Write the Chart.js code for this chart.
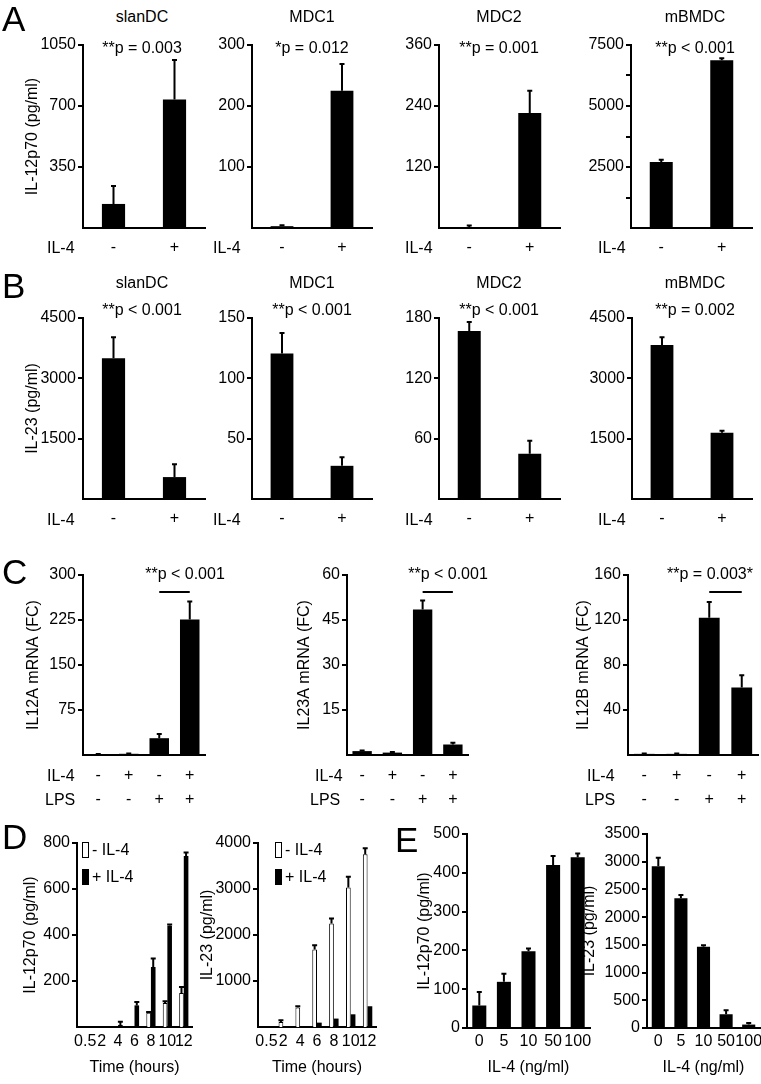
<!DOCTYPE html>
<html>
<head>
<meta charset="utf-8">
<script src="https://cdn.jsdelivr.net/npm/chart.js@4.4.1/dist/chart.umd.min.js"></script>
<style>
body { margin: 0; background: #fff; }
#fig { position: relative; width: 761px; height: 1084px; overflow: hidden; font-family: 'Liberation Sans', Arial, sans-serif; color: #000; }
#fig canvas { position: absolute; }
.t { position: absolute; white-space: nowrap; line-height: 1; font-size: 16px; transform: translate(-50%, -50%); }
.t.l { transform: translate(0, -50%); }
.t.let { font-size: 35px; }
.box { position: absolute; width: 7px; height: 16px; border: 1px solid #000; box-sizing: border-box; background: #fff; }
.box.on { background: #000; }
</style>
</head>
<body>
<div id="fig"></div>
<script>
// ---- data ----
var il4Labels = ['-', '+'];
var cellTypes = ['slanDC', 'MDC1', 'MDC2', 'mBMDC'];

// A: IL-12p70 (pg/ml), mean and SD
var aValues = [[138, 738], [3, 225], [2, 226], [2700, 6880]];
var aErrors = [[103, 226], [1.5, 44], [3, 44], [100, 80]];
var aPvals = ['**p = 0.003', '*p = 0.012', '**p = 0.001', '**p < 0.001'];
var aMax = [1050, 300, 360, 7500];
var aStep = [350, 100, 120, 1250];
var aLabelEvery = [0, 0, 0, 2500];

// B: IL-23 (pg/ml)
var bValues = [[3500, 545], [120.5, 27.5], [167, 45], [3830, 1645]];
var bErrors = [[520, 320], [17, 7], [9, 13], [190, 50]];
var bPvals = ['**p < 0.001', '**p < 0.001', '**p < 0.001', '**p = 0.002'];
var bMax = [4500, 150, 180, 4500];
var bStep = [1500, 50, 60, 1500];

// C: mRNA fold change, columns = IL-4 / LPS combos
var cLabels = [['-', '-'], ['+', '-'], ['-', '+'], ['+', '+']];
var cTitles = ['IL12A mRNA (FC)', 'IL23A mRNA (FC)', 'IL12B mRNA (FC)'];
var cValues = [[1, 2, 28, 226], [1.3, 0.8, 48.5, 3.5], [1, 1, 122, 60]];
var cErrors = [[0.5, 0.5, 7, 30], [0.2, 0.2, 3, 0.6], [0.3, 0.3, 14, 11]];
var cPvals = ['**p < 0.001', '**p < 0.001', '**p = 0.003*'];
var cMax = [300, 60, 160];
var cStep = [75, 15, 40];

// D: time course
var dHours = ['0.5', '2', '4', '6', '8', '10', '12'];
var d12Minus = [0, 0, 0, 0, 62, 104, 148];
var d12MinusErr = [0, 0, 0, 0, 3, 8, 26];
var d12Plus = [0, 0, 9, 94, 261, 440, 743];
var d12PlusErr = [0, 0, 14, 15, 37, 6, 16];
var d23Minus = [0, 109, 422, 1685, 2251, 3035, 3754];
var d23MinusErr = [0, 40, 28, 94, 109, 231, 131];
var d23Plus = [0, 0, 0, 95, 183, 276, 451];
var d23PlusErr = [0, 0, 0, 0, 0, 0, 0];

// E: IL-4 dose
var eDoses = ['0', '5', '10', '50', '100'];
var e12 = [58, 119, 198, 420, 440];
var e12Err = [35, 21, 7, 23, 10];
var e23 = [2920, 2340, 1465, 248, 62];
var e23Err = [150, 60, 30, 70, 28];

// ---- layout ----
var FONT = "'Liberation Sans', Arial, sans-serif";
Chart.defaults.font.family = FONT;
Chart.defaults.font.size = 16;
Chart.defaults.color = '#000';

var fig = document.getElementById('fig');

// error bars (upper only) drawn from the bar scale
var errorBars = {
    id: 'errorBars',
    afterDatasetsDraw: function(chart) {
        var ctx = chart.ctx;
        var y = chart.scales.y;
        chart.data.datasets.forEach(function(ds, di) {
            if (!ds.errors) return;
            var meta = chart.getDatasetMeta(di);
            meta.data.forEach(function(bar, i) {
                var err = ds.errors[i];
                if (!err) return;
                var top = y.getPixelForValue(ds.data[i] + err);
                ctx.save();
                ctx.strokeStyle = '#000';
                ctx.lineWidth = 2;
                ctx.beginPath();
                ctx.moveTo(bar.x, bar.y);
                ctx.lineTo(bar.x, top);
                ctx.moveTo(bar.x - 2.5, top);
                ctx.lineTo(bar.x + 2.5, top);
                ctx.stroke();
                ctx.restore();
            });
        });
    }
};

// significance line between two bars (panel C)
var bracket = {
    id: 'bracket',
    afterDatasetsDraw: function(chart, args, opts) {
        if (!opts || opts.from === undefined) return;
        var meta = chart.getDatasetMeta(0);
        var x1 = meta.data[opts.from].x, x2 = meta.data[opts.to].x;
        var yy = chart.chartArea.top + opts.offset;
        var ctx = chart.ctx;
        ctx.save();
        ctx.strokeStyle = '#000';
        ctx.lineWidth = 2;
        ctx.beginPath();
        ctx.moveTo(x1, yy);
        ctx.lineTo(x2, yy);
        ctx.stroke();
        ctx.restore();
    }
};

function txt(str, x, y, cls) {
    var d = document.createElement('div');
    d.className = 't' + (cls ? ' ' + cls : '');
    d.textContent = str;
    d.style.left = x + 'px';
    d.style.top = y + 'px';
    fig.appendChild(d);
    return d;
}

function barChart(p) {
    var padTop = 12, padRight = 8;
    var left = Math.round(p.titleX !== undefined ? p.titleX - 9.6 : p.ax - 50);
    var top = p.at - padTop;
    var yW = p.ax - left;
    var xH = p.xTitleY !== undefined ? Math.round(p.xTitleY + 9.6 - p.ab) : 50;
    var c = document.createElement('canvas');
    c.width = p.ar - left + padRight;
    c.height = p.ab - top + xH;
    c.style.left = left + 'px';
    c.style.top = top + 'px';
    fig.appendChild(c);

    new Chart(c, {
        type: 'bar',
        data: { labels: p.labels, datasets: p.datasets },
        plugins: [errorBars, bracket],
        options: {
            responsive: false,
            animation: false,
            layout: { padding: { top: padTop, right: padRight, left: 0, bottom: 0 } },
            plugins: {
                legend: { display: false },
                tooltip: { enabled: false },
                bracket: p.bracket || false
            },
            scales: {
                x: {
                    offset: true,
                    grid: { display: false, drawTicks: false },
                    border: { display: true, color: '#000', width: 2 },
                    ticks: {
                        color: '#000',
                        font: { size: 16, lineHeight: p.xLineHeight || 1.2 },
                        padding: p.xPad,
                        autoSkip: false,
                        maxRotation: 0,
                        minRotation: 0
                    },
                    title: p.xTitle ? { display: true, text: p.xTitle, color: '#000', font: { size: 16 }, padding: 0 } : { display: false },
                    afterFit: function(s) { s.height = xH; }
                },
                y: {
                    min: 0,
                    max: p.max,
                    grid: { display: true, drawOnChartArea: false, drawTicks: true, tickLength: 5, color: '#000', lineWidth: 2 },
                    border: { display: true, color: '#000', width: 2 },
                    ticks: {
                        stepSize: p.step,
                        color: '#000',
                        font: { size: 16 },
                        padding: 2,
                        callback: function(v) {
                            if (p.labelEvery && v % p.labelEvery) return '';
                            return String(v);
                        }
                    },
                    afterBuildTicks: function(s) {
                        if (!p.showZero) s.ticks = s.ticks.filter(function(t) { return t.value !== 0; });
                    },
                    title: p.yTitle ? { display: true, text: p.yTitle, color: '#000', font: { size: 16 }, padding: 0 } : { display: false },
                    afterFit: function(s) { s.width = yW; }
                }
            }
        }
    });
}

function blackBars(values, errors, pct) {
    return [{ data: values, errors: errors, backgroundColor: '#000', borderWidth: 0, barPercentage: pct, categoryPercentage: 1 }];
}

// ---- A and B rows ----
var colAxis = [83, 252, 439, 631];
var colRight = [205, 372, 560, 752];
var colCenter = [142, 312, 499, 695];
var il4Left = [47, 213, 405, 598];

for (var i = 0; i < 4; i++) {
    barChart({
        ax: colAxis[i], ar: colRight[i], at: 45, ab: 228,
        titleX: i === 0 ? 33 : undefined, yTitle: i === 0 ? 'IL-12p70 (pg/ml)' : null,
        labels: il4Labels, datasets: blackBars(aValues[i], aErrors[i], 0.38),
        max: aMax[i], step: aStep[i], labelEvery: aLabelEvery[i], xPad: 10
    });
    txt(cellTypes[i], colCenter[i], 17);
    txt(aPvals[i], colCenter[i], 48);
    txt('IL-4', il4Left[i], 248, 'l');

    barChart({
        ax: colAxis[i] + (i === 3 ? 1 : 0), ar: colRight[i], at: 318, ab: 499,
        titleX: i === 0 ? 33 : undefined, yTitle: i === 0 ? 'IL-23 (pg/ml)' : null,
        labels: il4Labels, datasets: blackBars(bValues[i], bErrors[i], 0.38),
        max: bMax[i], step: bStep[i], xPad: 10
    });
    txt(cellTypes[i], colCenter[i], 283);
    txt(bPvals[i], colCenter[i], 310);
    txt('IL-4', il4Left[i], 520, 'l');
}

// ---- C row ----
var cAxis = [83, 347, 628];
var cRight = [205, 468, 758];
var cTitleX = [34, 305, 584];
var cPvalX = [185, 448, 710];
var cIl4Left = [47, 315, 587];
var cLpsLeft = [45, 310, 585];
for (var j = 0; j < 3; j++) {
    barChart({
        ax: cAxis[j], ar: cRight[j], at: 575, ab: 755,
        titleX: cTitleX[j], yTitle: cTitles[j],
        labels: cLabels, datasets: blackBars(cValues[j], cErrors[j], 0.64),
        max: cMax[j], step: cStep[j], xPad: 9, xLineHeight: 1.5,
        bracket: { from: 2, to: 3, offset: 17 }
    });
    txt(cPvals[j], cPvalX[j], 574);
    txt('IL-4', cIl4Left[j], 776, 'l');
    txt('LPS', cLpsLeft[j], 800, 'l');
}

// ---- D row ----
function pairSets(minus, minusErr, plus, plusErr) {
    return [
        { data: minus, errors: minusErr, backgroundColor: '#fff', borderColor: '#000', borderWidth: 1, barPercentage: 1, categoryPercentage: 0.56 },
        { data: plus, errors: plusErr, backgroundColor: '#000', borderWidth: 0, barPercentage: 1, categoryPercentage: 0.56 }
    ];
}
barChart({
    ax: 77, ar: 192, at: 843, ab: 1027, titleX: 31, yTitle: 'IL-12p70 (pg/ml)',
    labels: dHours, datasets: pairSets(d12Minus, d12MinusErr, d12Plus, d12PlusErr),
    max: 800, step: 200, xPad: 5, xTitle: 'Time (hours)', xTitleY: 1067
});
barChart({
    ax: 258, ar: 376, at: 843, ab: 1027, titleX: 208, yTitle: 'IL-23 (pg/ml)',
    labels: dHours, datasets: pairSets(d23Minus, d23MinusErr, d23Plus, d23PlusErr),
    max: 4000, step: 1000, xPad: 5, xTitle: 'Time (hours)', xTitleY: 1067
});
[[82, 92], [275, 285]].forEach(function(pos) {
    var b1 = document.createElement('div'); b1.className = 'box';
    b1.style.left = pos[0] + 'px'; b1.style.top = '842px'; fig.appendChild(b1);
    var b2 = document.createElement('div'); b2.className = 'box on';
    b2.style.left = pos[0] + 'px'; b2.style.top = '869px'; fig.appendChild(b2);
    txt('- IL-4', pos[1], 850, 'l');
    txt('+ IL-4', pos[1], 877, 'l');
});

// ---- E row ----
barChart({
    ax: 467, ar: 590, at: 834, ab: 1028, titleX: 425, yTitle: 'IL-12p70 (pg/ml)',
    labels: eDoses, datasets: blackBars(e12, e12Err, 0.57),
    max: 500, step: 100, showZero: true, xPad: 4, xTitle: 'IL-4 (ng/ml)', xTitleY: 1067
});
barChart({
    ax: 647, ar: 760, at: 834, ab: 1028, titleX: 590, yTitle: 'IL-23 (pg/ml)',
    labels: eDoses, datasets: blackBars(e23, e23Err, 0.58),
    max: 3500, step: 500, showZero: true, xPad: 4, xTitle: 'IL-4 (ng/ml)', xTitleY: 1067
});

// panel letters
txt('A', 2, 18, 'l let');
txt('B', 2, 285, 'l let');
txt('C', 2, 571, 'l let');
txt('D', 2, 836, 'l let');
txt('E', 395, 839, 'l let');
</script>
</body>
</html>
